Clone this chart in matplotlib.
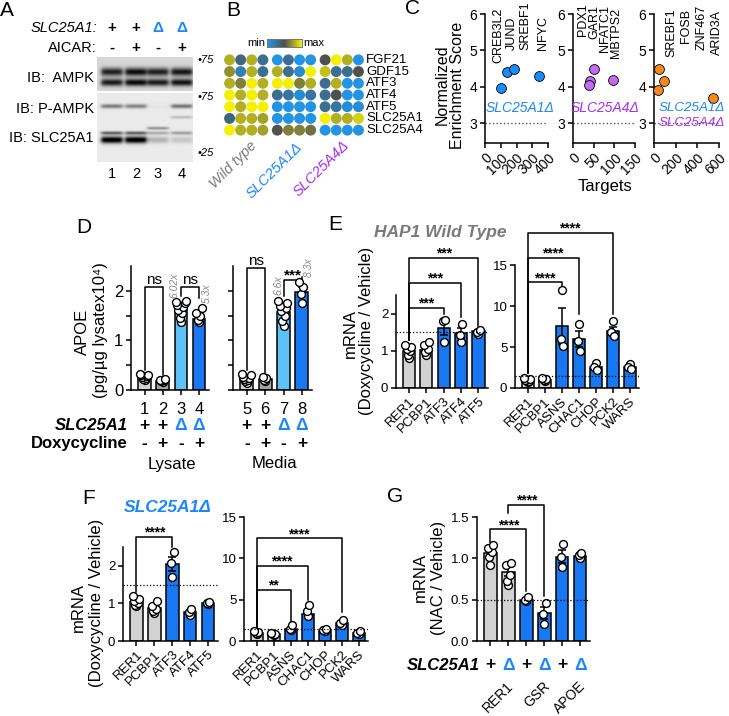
import numpy as np
import matplotlib
matplotlib.use('Agg')
import matplotlib.pyplot as plt
import matplotlib.transforms as mtransforms
from matplotlib.colors import LinearSegmentedColormap

plt.rcParams['font.family'] = ['Liberation Sans', 'DejaVu Sans']
plt.rcParams['axes.linewidth'] = 1.1
plt.rcParams['xtick.major.width'] = 1.1
plt.rcParams['ytick.major.width'] = 1.1
plt.rcParams['xtick.major.size'] = 3.5
plt.rcParams['ytick.major.size'] = 3.5
plt.rcParams['xtick.major.pad'] = 2
plt.rcParams['ytick.major.pad'] = 2

GRAY = '#d2d2d2'
DGRAY = '#a3a3a3'
BLUE = '#1778f2'
LBLUE = '#5cc2f7'
TXT_BLUE = '#1a86ff'
PURPLE = '#a52ef0'
WT_GRAY = '#7a7a7a'

# ---------------- data ----------------
# A: western blot, band strength per lane (0 = none, 1 = black)
blot_lanes = ['1', '2', '3', '4']
blot_slc25a1 = ['+', '+', 'Δ', 'Δ']
blot_aicar = ['-', '+', '-', '+']
ampk_upper = [0.72, 0.80, 0.72, 0.76]
ampk_lower = [0.74, 0.82, 0.74, 0.78]
pampk = [0.45, 0.42, 0.02, 0.48]
pampk_extra = [0.0, 0.0, 0.0, 0.18]
slc_mid = [0.0, 0.0, 0.35, 0.0]
slc_upper = [0.55, 0.55, 0.25, 0.30]
slc_main = [1.0, 1.0, 0.22, 0.15]

# B: relative expression (0 = min, 1 = max)
heat_genes = ['FGF21', 'GDF15', 'ATF3', 'ATF4', 'ATF5', 'SLC25A1', 'SLC25A4']
heat_groups = ['Wild type', 'SLC25A1Δ', 'SLC25A4Δ']
heat_values = [
    [0.80, 0.35, 0.80, 0.30, 0.05, 0.30, 0.05, 0.05, 0.50, 1.00, 0.80, 0.05],
    [0.70, 0.20, 0.80, 0.30, 0.80, 0.30, 0.10, 1.00, 0.85, 0.30, 0.30, 0.50],
    [0.80, 0.65, 1.00, 0.80, 1.00, 1.00, 0.65, 0.80, 0.30, 0.80, 0.05, 0.05],
    [1.00, 0.80, 1.00, 0.80, 0.30, 0.25, 0.10, 0.25, 0.30, 0.50, 0.05, 0.05],
    [1.00, 0.80, 1.00, 1.00, 0.05, 0.05, 0.05, 0.05, 0.30, 0.25, 0.10, 0.10],
    [0.35, 0.80, 0.80, 0.75, 0.05, 0.05, 0.05, 0.05, 1.00, 0.80, 0.80, 0.90],
    [1.00, 0.80, 0.80, 0.75, 0.50, 0.65, 0.65, 0.60, 0.05, 0.05, 0.05, 0.05],
]

# C: enrichment scatter
c1_targets = [99, 137, 185, 343]
c1_nes = [3.95, 4.41, 4.48, 4.29]
c1_genes = ['CREB3L2', 'JUND', 'SREBF1', 'NFYC']
c2_targets = [51, 41, 39, 97]
c2_nes = [4.49, 4.16, 4.05, 4.17]
c2_genes = ['PDX1', 'GAR1', 'NFATC1', 'MBTPS2']
c3_targets = [47, 94, 37, 543]
c3_nes = [4.49, 4.15, 3.90, 3.70]
c3_genes = ['SREBF1', 'FOSB', 'ZNF467', 'ARID3A']

# D: APOE ELISA
d_lysate_mean = [0.25, 0.18, 1.62, 1.44]
d_lysate_err = [0.02, 0.01, 0.05, 0.06]
d_lysate_pts = [[0.20, 0.22, 0.25, 0.27, 0.28, 0.30, 0.31, 0.33],
                [0.17, 0.18, 0.20, 0.21, 0.22],
                [1.37, 1.45, 1.55, 1.62, 1.68, 1.72, 1.75, 1.78, 1.80],
                [1.37, 1.42, 1.50, 1.55, 1.66]]
d_media_mean = [0.23, 0.22, 1.58, 1.98]
d_media_err = [0.02, 0.02, 0.07, 0.09]
d_media_pts = [[0.15, 0.18, 0.20, 0.22, 0.25, 0.27, 0.30, 0.32],
               [0.19, 0.21, 0.24, 0.26],
               [1.30, 1.40, 1.50, 1.60, 1.65, 1.70, 1.75, 1.80],
               [1.76, 1.94, 2.08, 2.18]]
d_lanes_lysate = ['1', '2', '3', '4']
d_lanes_media = ['5', '6', '7', '8']
d_slc = ['+', '+', 'Δ', 'Δ']
d_dox = ['-', '+', '-', '+']

# E: HAP1 wild type, doxycycline / vehicle
e1_genes = ['RER1', 'PCBP1', 'ATF3', 'ATF4', 'ATF5']
e1_mean = [1.00, 1.02, 1.60, 1.47, 1.53]
e1_err = [0.05, 0.05, 0.17, 0.13, 0.04]
e1_pts = [[0.80, 0.90, 1.00, 1.05, 1.10, 1.15], [0.89, 0.97, 1.05, 1.15, 1.24],
          [1.24, 1.80, 1.82], [1.24, 1.42, 1.73], [1.45, 1.51, 1.57]]
e2_genes = ['RER1', 'PCBP1', 'ASNS', 'CHAC1', 'CHOP', 'PCK2', 'WARS']
e2_mean = [1.0, 1.0, 7.6, 6.0, 2.6, 6.9, 2.6]
e2_err = [0.1, 0.1, 2.2, 0.95, 0.25, 0.6, 0.18]
e2_pts = [[0.7, 0.8, 0.9, 1.0, 1.1, 1.2], [0.8, 1.0, 1.1, 1.2],
          [11.9, 6.0, 5.1], [7.8, 5.7, 4.5], [3.1, 2.6, 2.2], [8.2, 6.8, 6.3], [2.9, 2.6, 2.3]]

# F: SLC25A1 knockout, doxycycline / vehicle
f1_genes = ['RER1', 'PCBP1', 'ATF3', 'ATF4', 'ATF5']
f1_mean = [1.05, 0.87, 2.05, 0.77, 1.00]
f1_err = [0.05, 0.06, 0.19, 0.05, 0.03]
f1_pts = [[0.92, 0.96, 1.02, 1.06, 1.12, 1.20], [0.75, 0.80, 0.86, 0.93, 1.06],
          [1.71, 2.08, 2.37], [0.68, 0.76, 0.84], [0.98, 1.02, 1.05]]
f2_genes = ['RER1', 'PCBP1', 'ASNS', 'CHAC1', 'CHOP', 'PCK2', 'WARS']
f2_mean = [1.0, 0.8, 1.45, 3.3, 1.25, 2.15, 1.0]
f2_err = [0.06, 0.05, 0.15, 0.35, 0.1, 0.2, 0.1]
f2_pts = [[0.9, 1.0, 1.1, 1.25], [0.7, 0.8, 0.9, 1.0], [1.3, 1.4, 1.95],
          [3.0, 3.6, 4.4], [1.2, 1.3, 1.5], [1.9, 2.2, 2.6], [0.8, 1.0, 1.2]]

# G: NAC / vehicle
g_genes = ['RER1', 'GSR', 'APOE']
g_slc = ['+', 'Δ', '+', 'Δ', '+', 'Δ']
g_mean = [1.07, 0.84, 0.50, 0.34, 1.02, 1.03]
g_err = [0.04, 0.05, 0.02, 0.07, 0.08, 0.02]
g_pts = [[0.92, 1.02, 1.08, 1.12, 1.16], [0.68, 0.72, 0.80, 0.92, 0.94],
         [0.48, 0.50, 0.53], [0.21, 0.33, 0.46], [0.90, 1.02, 1.17], [1.00, 1.04, 1.06]]

# ---------------- helpers ----------------
W, H = 729, 716
fig = plt.figure(figsize=(W / 100, H / 100), dpi=100)


def add_ax(x0, y0, x1, y1):
    return fig.add_axes([x0 / W, 1 - y1 / H, (x1 - x0) / W, (y1 - y0) / H])


def put(x, y, s, **kw):
    fig.text(x / W, 1 - y / H, s, **kw)


def fy(y):
    return 1 - y / H


def spread(n):
    return np.array([(-1) ** i * 0.07 * ((i + 1) // 2) for i in range(n)])


def bar_panel(ax, mean, err, pts, colors, ylim, yticks, yticklabels=None, fs=9.5):
    x = np.arange(len(mean))
    ax.bar(x, mean, width=0.7, color=colors, edgecolor='black', linewidth=1.1, zorder=2)
    ax.errorbar(x, mean, yerr=err, fmt='none', ecolor='black', elinewidth=1.1,
                capsize=3, capthick=1.1, zorder=3)
    for xi, p in zip(x, pts):
        ax.scatter(xi + spread(len(p)), p, s=32, facecolor='white', edgecolor='black',
                   linewidth=1.0, zorder=4, clip_on=False)
    ax.set_xlim(-0.75, len(mean) - 0.45)
    ax.set_ylim(*ylim)
    ax.set_yticks(yticks)
    if yticklabels is not None:
        ax.set_yticklabels(yticklabels)
    ax.tick_params(labelsize=fs)
    ax.set_xticks(x)
    ax.spines[['top', 'right']].set_visible(False)
    return x


def bracket(ax, x1, x2, y, y1, y2, label, fs=10, bold=True, dy=-2):
    ax.plot([x1, x1, x2, x2], [y1, y, y, y2], color='black', lw=1.1, clip_on=False)
    ax.annotate(label, ((x1 + x2) / 2, y), xytext=(0, dy), textcoords='offset points',
                ha='center', va='bottom', fontsize=fs,
                fontweight='bold' if bold else 'normal', annotation_clip=False)


def gene_ticks(ax, labels, fs=9.5):
    ax.set_xticklabels(labels, rotation=45, ha='right', rotation_mode='anchor', fontsize=fs)


# ---------------- panel letters ----------------
for letter, (lx, ly) in {'A': (7, 10), 'B': (233, 10), 'C': (413, 9), 'D': (84, 228),
                         'E': (335, 225), 'F': (89, 498), 'G': (395, 497)}.items():
    put(lx, ly, letter, fontsize=15, ha='center', va='center')

# ---------------- A ----------------
lane_c = [0.62, 1.62, 2.54, 3.54]


def blot(ax, bands, bg):
    yy = np.linspace(0, 1, 240)[:, None]
    xx = np.linspace(0, 4, 400)[None, :]
    img = np.full((240, 400), bg)
    for pos, sig, vals in bands:
        for c, v in zip(lane_c, vals):
            lane = 1 / (1 + np.exp(-(xx - c + 0.44) * 22)) / (1 + np.exp((xx - c - 0.44) * 22))
            img = img + v * np.exp(-0.5 * ((yy - pos) / sig) ** 2) * lane
    ax.imshow(np.clip(img, 0, 1), cmap='gray_r', vmin=0, vmax=1, extent=(0, 4, 1, 0),
              aspect='auto', interpolation='bilinear')
    ax.set_xlim(0, 4)
    ax.set_ylim(1, 0)
    ax.axis('off')


axA1 = add_ax(97, 57, 193, 91)
blot(axA1, [(0.44, 0.085, ampk_upper), (0.75, 0.075, ampk_lower)], 0.16)
axA2 = add_ax(97, 93, 193, 162)
blot(axA2, [(0.19, 0.022, pampk), (0.35, 0.015, pampk_extra), (0.51, 0.015, slc_mid),
            (0.58, 0.017, slc_upper), (0.68, 0.035, slc_main)], 0.08)
trA = mtransforms.blended_transform_factory(axA1.transData, fig.transFigure)
for c, s1, s2, n in zip(lane_c, blot_slc25a1, blot_aicar, blot_lanes):
    col = TXT_BLUE if s1 == 'Δ' else 'black'
    axA1.text(c, fy(28), s1, transform=trA, ha='center', va='center', fontsize=11,
              color=col, fontweight='bold')
    axA1.text(c, fy(48), s2, transform=trA, ha='center', va='center', fontsize=11,
              fontweight='bold')
    axA1.text(c, fy(174), n, transform=trA, ha='center', va='center', fontsize=10.5)
put(97, 28, 'SLC25A1:', ha='right', va='center', fontsize=10.5, style='italic')
put(97, 48, 'AICAR:', ha='right', va='center', fontsize=10.5)
put(94, 78, 'IB:  AMPK', ha='right', va='center', fontsize=10.5)
put(94, 109, 'IB: P-AMPK', ha='right', va='center', fontsize=10.5)
put(94, 138, 'IB: SLC25A1', ha='right', va='center', fontsize=10.5)
for my, mt in [(60, '•75'), (97, '•75'), (153, '•25')]:
    put(197, my, mt, ha='left', va='center', fontsize=8, style='italic')

# ---------------- B ----------------
heat_cmap = LinearSegmentedColormap.from_list('bgy', ['#1e9bf2', '#4f4f4f', '#f4f000'])
axB = add_ax(224, 54, 364, 136)
col_x = np.array([i + 0.3 * (i // 4) for i in range(12)])
vals = np.array(heat_values)
for r in range(len(heat_genes)):
    axB.scatter(col_x, np.full(12, r), c=vals[r], cmap=heat_cmap, vmin=0, vmax=1,
                s=62, linewidths=0)
    axB.text(12.3, r, heat_genes[r], ha='left', va='center', fontsize=9.5, clip_on=False)
axB.set_xlim(-0.5, 12.1)
axB.set_ylim(6.5, -0.5)
axB.axis('off')
axCB = add_ax(267, 39, 302, 47)
axCB.imshow(np.linspace(0, 1, 100)[None, :], cmap=heat_cmap, aspect='auto')
axCB.set_xticks([])
axCB.set_yticks([])
for sp in axCB.spines.values():
    sp.set_linewidth(0.7)
    sp.set_color('#777777')
put(265, 43, 'min', ha='right', va='center', fontsize=8)
put(303, 43, 'max', ha='left', va='center', fontsize=8)
for (ax_, ay_), lab, colr in zip([(250, 139), (295, 140), (342, 138)], heat_groups,
                                 [WT_GRAY, TXT_BLUE, PURPLE]):
    put(ax_, ay_, lab, rotation=45, ha='right', va='top', rotation_mode='anchor',
        fontsize=10.5, style='italic', color=colr)

# ---------------- C ----------------
c_sets = [
    ((485, 548), c1_targets, c1_nes, c1_genes, '#1a8cff', (0, 400), [0, 100, 200, 300, 400],
     [498, 512, 525, 543], [63, 50, 50, 50]),
    ((573, 635), c2_targets, c2_nes, c2_genes, '#c56af2', (0, 150), [0, 50, 100, 150],
     [583, 594, 605, 616], [36, 39, 52, 58]),
    ((654, 719), c3_targets, c3_nes, c3_genes, '#f5891f', (0, 600), [0, 200, 400, 600],
     [671, 686, 702, 717], [57, 43, 50, 55]),
]
for (x0, x1), tx, ne, genes, colr, xl, xt, gx, gy in c_sets:
    ax = add_ax(x0, 14, x1, 143)
    ax.axhline(3, ls=':', color='#555555', lw=1.0, zorder=1)
    ax.scatter(tx, ne, s=50, color=colr, edgecolor='black', linewidth=0.6, zorder=3,
               clip_on=False)
    ax.set_xlim(*xl)
    ax.set_ylim(2.45, 6.0)
    ax.set_yticks([3, 4, 5, 6])
    ax.set_xticks(xt)
    ax.set_xticklabels([str(v) for v in xt], rotation=45, ha='right', rotation_mode='anchor')
    ax.tick_params(labelsize=10)
    ax.spines[['top', 'right']].set_visible(False)
    for g, xx_, yy_ in zip(genes, gx, gy):
        put(xx_, yy_, g, rotation=90, ha='center', va='bottom', fontsize=9)
put(520, 108, 'SLC25A1Δ', ha='center', va='center', fontsize=10, style='italic',
    color=TXT_BLUE)
put(605, 108, 'SLC25A4Δ', ha='center', va='center', fontsize=10, style='italic',
    color=PURPLE)
put(659, 108, 'SLC25A1Δ', ha='left', va='center', fontsize=9.6, style='italic',
    color=TXT_BLUE)
put(659, 123, 'SLC25A4Δ', ha='left', va='center', fontsize=9.6, style='italic',
    color=PURPLE)
put(442, 85, 'Normalized', rotation=90, ha='center', va='center', fontsize=11.5)
put(457, 85, 'Enrichment Score', rotation=90, ha='center', va='center', fontsize=11.5)
put(605, 187, 'Targets', ha='center', va='center', fontsize=12)

# ---------------- D ----------------
axDL = add_ax(131, 266, 209, 390)
axDR = add_ax(233, 266, 312, 390)
d_yt = [0, 0.5, 1, 1.5, 2]
xl_ = bar_panel(axDL, d_lysate_mean, d_lysate_err, d_lysate_pts, [GRAY, DGRAY, LBLUE, BLUE],
                (0, 2.5), d_yt, ['0', '', '1', '', '2'], fs=12)
xr_ = bar_panel(axDR, d_media_mean, d_media_err, d_media_pts, [GRAY, DGRAY, LBLUE, BLUE],
                (0, 2.5), d_yt, ['', '', '', '', ''], fs=12)
axDL.set_xticklabels(d_lanes_lysate, fontsize=12)
axDR.set_xticklabels(d_lanes_media, fontsize=12)
for ax in (axDL, axDR):
    ax.tick_params(axis='x', pad=5)
bracket(axDL, 0, 1, 2.08, 0.40, 0.30, 'ns', fs=11, bold=False, dy=0)
bracket(axDL, 2, 3, 2.08, 1.90, 1.85, 'ns', fs=11, bold=False, dy=0)
bracket(axDR, 0, 1, 2.46, 0.40, 0.35, 'ns', fs=11, bold=False, dy=0)
bracket(axDR, 2, 3, 2.22, 1.90, 2.28, '***', fs=11)
for x_, y_, s_ in [(174, 285, '6.02x'), (207, 293, '5.3x'), (278, 285, '6.6x'), (309, 267, '8.3x')]:
    put(x_, y_, s_, rotation=90, ha='center', va='center', fontsize=7.5, style='italic',
        color='#8a8a8a')
for ax in (axDL, axDR):
    tr = mtransforms.blended_transform_factory(ax.transData, fig.transFigure)
    for xi, s1, s2 in zip(range(4), d_slc, d_dox):
        ax.text(xi, fy(425), s1, transform=tr, ha='center', va='center', fontsize=12.5,
                fontweight='bold', color=TXT_BLUE if s1 == 'Δ' else 'black')
        ax.text(xi, fy(443), s2, transform=tr, ha='center', va='center', fontsize=12.5,
                fontweight='bold')
axDL.text(1.5, fy(464), 'Lysate', transform=mtransforms.blended_transform_factory(
    axDL.transData, fig.transFigure), ha='center', va='center', fontsize=12)
axDR.text(1.5, fy(464), 'Media', transform=mtransforms.blended_transform_factory(
    axDR.transData, fig.transFigure), ha='center', va='center', fontsize=12)
put(128, 425, 'SLC25A1', ha='right', va='center', fontsize=12, fontweight='bold',
    style='italic')
put(128, 443, 'Doxycycline', ha='right', va='center', fontsize=12, fontweight='bold')
put(82, 332, 'APOE', rotation=90, ha='center', va='center', fontsize=12)
put(101, 330, '(pg/µg lysatex10⁴)', rotation=90, ha='center', va='center', fontsize=12)

# ---------------- E ----------------
axE1 = add_ax(396, 295, 488, 388)
axE2 = add_ax(515, 265, 639, 388)
bar_panel(axE1, e1_mean, e1_err, e1_pts, [GRAY, GRAY, BLUE, BLUE, BLUE], (0, 2.5), [0, 1, 2])
bar_panel(axE2, e2_mean, e2_err, e2_pts, [GRAY, GRAY] + [BLUE] * 5, (0, 15), [0, 5, 10, 15])
gene_ticks(axE1, e1_genes)
gene_ticks(axE2, e2_genes)
axE1.axhline(1.5, ls=':', color='black', lw=0.9, zorder=5)
axE2.axhline(1.5, ls=':', color='black', lw=0.9, zorder=5)
bracket(axE1, 0, 2, 2.16, 1.30, 2.0, '***')
bracket(axE1, 0, 3, 2.83, 1.30, 1.9, '***')
bracket(axE1, 0, 4, 3.49, 1.30, 1.68, '***')
bracket(axE2, 0, 2, 12.9, 1.8, 12.5, '****')
bracket(axE2, 0, 3, 15.9, 1.8, 9.0, '****')
bracket(axE2, 0, 5, 18.9, 1.8, 9.0, '****')
put(440, 232, 'HAP1 Wild Type', ha='center', va='center', fontsize=12.5, fontweight='bold',
    style='italic', color='#7a7a7a')
put(350, 334, 'mRNA', rotation=90, ha='center', va='center', fontsize=12)
put(367, 331, '(Doxycycline / Vehicle)', rotation=90, ha='center', va='center', fontsize=12)

# ---------------- F ----------------
axF1 = add_ax(123, 547, 218, 641)
axF2 = add_ax(244, 517, 368, 641)
bar_panel(axF1, f1_mean, f1_err, f1_pts, [GRAY, GRAY, BLUE, BLUE, BLUE], (0, 2.5), [0, 1, 2])
bar_panel(axF2, f2_mean, f2_err, f2_pts, [GRAY, GRAY] + [BLUE] * 5, (0, 15), [0, 5, 10, 15])
gene_ticks(axF1, f1_genes)
gene_ticks(axF2, f2_genes)
axF1.axhline(1.5, ls=':', color='black', lw=0.9, zorder=5)
axF2.axhline(1.5, ls=':', color='black', lw=0.9, zorder=5)
bracket(axF1, 0, 2, 2.77, 1.30, 2.50, '****')
bracket(axF2, 0, 2, 6.2, 1.5, 2.3, '**')
bracket(axF2, 0, 3, 9.1, 1.5, 5.0, '****')
bracket(axF2, 0, 5, 12.4, 1.5, 3.5, '****')
put(168, 508, 'SLC25A1Δ', ha='center', va='center', fontsize=12.5, fontweight='bold',
    style='italic', color=TXT_BLUE)
put(78, 607, 'mRNA', rotation=90, ha='center', va='center', fontsize=12)
put(97, 603, '(Doxycycline / Vehicle)', rotation=90, ha='center', va='center', fontsize=12)

# ---------------- G ----------------
axG = add_ax(477, 517, 590, 641)
xg = bar_panel(axG, g_mean, g_err, g_pts, [GRAY, GRAY, BLUE, BLUE, BLUE, BLUE], (0, 1.5),
               [0, 0.5, 1.0, 1.5], ['0.0', '0.5', '1.0', '1.5'])
axG.set_xticklabels([])
axG.axhline(0.5, ls=':', color='black', lw=0.9, zorder=5)
bracket(axG, 0, 2, 1.35, 1.20, 0.60, '****')
bracket(axG, 1, 3, 1.65, 1.55, 0.55, '****')
trG = mtransforms.blended_transform_factory(axG.transData, fig.transFigure)
for xi, s in zip(xg, g_slc):
    axG.text(xi, fy(665), s, transform=trG, ha='center', va='center', fontsize=12.5,
             fontweight='bold', color=TXT_BLUE if s == 'Δ' else 'black')
for i, g in enumerate(g_genes):
    axG.text(2 * i + 0.5 + 0.4, fy(679), g, transform=trG, rotation=45, ha='right', va='top',
             rotation_mode='anchor', fontsize=10)
put(480, 665, 'SLC25A1', ha='right', va='center', fontsize=12, fontweight='bold',
    style='italic')
put(420, 578, 'mRNA', rotation=90, ha='center', va='center', fontsize=12)
put(438, 578, '(NAC / Vehicle)', rotation=90, ha='center', va='center', fontsize=12)

fig.savefig('out.png', dpi=100)
